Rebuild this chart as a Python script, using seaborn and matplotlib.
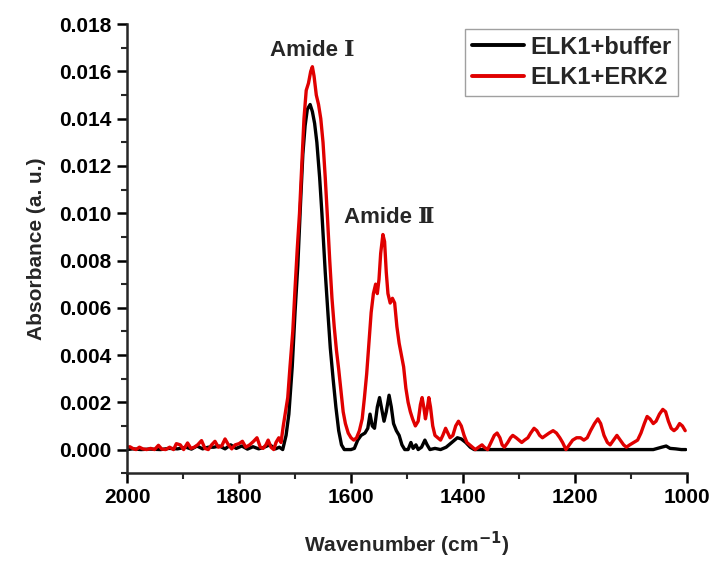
import matplotlib
matplotlib.use('Agg')
import matplotlib.pyplot as plt
from matplotlib.ticker import MultipleLocator, FormatStrFormatter
import numpy as np
import pandas as pd
import seaborn as sns

# -----------------------------------------------------------------------
# Spectra: wavenumber (cm-1) and absorbance (a.u.)
buffer_wn = [2000, 1990, 1975, 1960, 1940, 1925, 1910, 1895, 1885, 1875,
             1865, 1855, 1845, 1835, 1825, 1815, 1805, 1795, 1785, 1775,
             1765, 1755, 1745, 1735, 1728, 1722, 1716, 1711, 1705, 1700,
             1695, 1690, 1686, 1682, 1678, 1673, 1669, 1665, 1661, 1656,
             1652, 1646, 1641, 1637, 1632, 1627, 1622, 1617, 1612, 1600,
             1594, 1588, 1582, 1575, 1570, 1566, 1562, 1558, 1553, 1549,
             1545, 1541, 1537, 1532, 1528, 1524, 1519, 1514, 1509, 1504,
             1498, 1493, 1489, 1484, 1480, 1474, 1468, 1464, 1459, 1450,
             1440, 1430, 1420, 1410, 1403, 1395, 1387, 1380, 1350, 1300,
             1250, 1200, 1150, 1100, 1060, 1045, 1037, 1030, 1020, 1010,
             1002]
buffer_abs = [0.0, 0.00003, 0.0, 0.00002, 0.0, 0.00005, 0.00003, 0.0001, 0.00002, 0.00015,
              0.00003, 0.0001, 0.0001, 0.00015, 0.00003, 0.0002, 0.00005, 0.00015, 0.00002, 0.00012,
              0.00003, 0.0001, 0.0002, 0.00003, 0.0001, 0.0, 0.0006, 0.0015, 0.0035, 0.0058,
              0.0078, 0.0105, 0.0125, 0.0137, 0.0144, 0.0146, 0.0143, 0.0138, 0.0130, 0.0115,
              0.0100, 0.0075, 0.0057, 0.0043, 0.0030, 0.0018, 0.0008, 0.0002, 0.0, 0.0,
              0.00005, 0.0004, 0.0006, 0.0007, 0.0009, 0.0015, 0.0010, 0.0009, 0.0018, 0.0022,
              0.0017, 0.0012, 0.0016, 0.0023, 0.0018, 0.0011, 0.0008, 0.0006, 0.0002, 0.0,
              0.0, 0.0003, 0.00005, 0.0002, 0.0, 0.0001, 0.0004, 0.0002, 0.0, 0.00005,
              0.0, 0.0001, 0.0003, 0.0005, 0.00045, 0.0003, 0.0001, 0.0, 0.0, 0.0,
              0.0, 0.0, 0.0, 0.0, 0.0, 0.0001, 0.00015, 0.00005, 0.00003, 0.0,
              0.0]

erk2_wn = [2000, 1995, 1990, 1984, 1978, 1972, 1965, 1958, 1951, 1944,
           1938, 1931, 1924, 1917, 1912, 1905, 1899, 1892, 1886, 1880,
           1874, 1867, 1861, 1855, 1849, 1843, 1837, 1831, 1825, 1819,
           1813, 1807, 1800, 1794, 1788, 1781, 1774, 1768, 1762, 1757,
           1752, 1748, 1743, 1738, 1734, 1729, 1725, 1721, 1717, 1713,
           1709, 1704, 1700, 1696, 1692, 1688, 1684, 1680, 1676, 1672,
           1669, 1666, 1662, 1658, 1654, 1650, 1646, 1642, 1638, 1634,
           1630, 1626, 1622, 1618, 1614, 1610, 1605, 1600, 1595, 1590,
           1585, 1580, 1576, 1572, 1568, 1564, 1560, 1556, 1553, 1550,
           1547, 1543, 1540, 1537, 1534, 1530, 1526, 1522, 1518, 1514,
           1510, 1506, 1502, 1498, 1494, 1490, 1485, 1480, 1476, 1473,
           1470, 1467, 1464, 1461, 1458, 1454, 1450, 1445, 1440, 1436,
           1431, 1427, 1423, 1418, 1413, 1408, 1403, 1398, 1393, 1388,
           1383, 1378, 1372, 1366, 1362, 1356, 1350, 1344, 1339, 1334,
           1330, 1326, 1320, 1315, 1311, 1305, 1300, 1295, 1290, 1284,
           1279, 1273, 1268, 1263, 1258, 1252, 1246, 1239, 1233, 1227,
           1222, 1216, 1210, 1204, 1197, 1190, 1184, 1178, 1172, 1165,
           1159, 1154, 1148, 1142, 1137, 1131, 1125, 1119, 1113, 1108,
           1102, 1095, 1088, 1082, 1076, 1071, 1066, 1060, 1055, 1049,
           1043, 1038, 1033, 1028, 1023, 1018, 1013, 1008, 1003]
erk2_abs = [0.0001, 0.00012, 0.00005, 0.0, 0.0001, 0.00003, 0.0, 0.00005, 0.0, 0.00018,
            0.00002, 0.0, 0.0001, 0.0, 0.00025, 0.0002, 0.0, 0.00028, 0.00005, 0.0001,
            0.0002, 0.00038, 0.00005, 0.0, 0.0002, 0.00035, 0.0001, 0.00015, 0.00045, 0.0002,
            0.00003, 0.0002, 0.00025, 0.00035, 0.0001, 0.0002, 0.00035, 0.0005, 0.0001, 0.00005,
            0.0002, 0.0004, 0.0001, 0.0, 0.0003, 0.0005, 0.0003, 0.0010, 0.0016, 0.0022,
            0.0035, 0.0050, 0.0068, 0.0085, 0.0100, 0.0120, 0.0140, 0.0152, 0.0155, 0.0160,
            0.0162, 0.0158, 0.0150, 0.0146, 0.0140, 0.0130, 0.0115, 0.0098, 0.0080, 0.0064,
            0.0052, 0.0042, 0.0034, 0.0025, 0.0016, 0.0011, 0.0007, 0.0005, 0.0004, 0.0005,
            0.0008, 0.0013, 0.0022, 0.0032, 0.0045, 0.0058, 0.0066, 0.0070, 0.0066, 0.0072,
            0.0083, 0.0091, 0.0088, 0.0075, 0.0066, 0.0062, 0.0064, 0.0062, 0.0052, 0.0045,
            0.0040, 0.0035, 0.0026, 0.0020, 0.0016, 0.0013, 0.0010, 0.0012, 0.0019, 0.0022,
            0.0018, 0.0013, 0.0017, 0.0022, 0.0018, 0.0010, 0.0006, 0.0005, 0.0004, 0.0006,
            0.0009, 0.0007, 0.0005, 0.0006, 0.0010, 0.0012, 0.0010, 0.0006, 0.0003, 0.0002,
            0.0001, 0.0, 0.0001, 0.0002, 0.0001, 0.0, 0.0003, 0.0006, 0.0007, 0.0005,
            0.0002, 0.0001, 0.0003, 0.0005, 0.0006, 0.0005, 0.0004, 0.0003, 0.0004, 0.0005,
            0.0007, 0.0009, 0.0008, 0.0006, 0.0005, 0.0006, 0.0007, 0.0008, 0.0007, 0.0005,
            0.0003, 0.0, 0.0002, 0.0004, 0.0005, 0.0005, 0.0004, 0.0005, 0.0008, 0.0011,
            0.0013, 0.0011, 0.0006, 0.0003, 0.0002, 0.0004, 0.0006, 0.0004, 0.0002, 0.0001,
            0.0002, 0.0003, 0.0004, 0.0007, 0.0011, 0.0014, 0.0013, 0.0011, 0.0012, 0.0015,
            0.0017, 0.0016, 0.0012, 0.0009, 0.0008, 0.0009, 0.0011, 0.0010, 0.0008]

series_names = ['ELK1+buffer', 'ELK1+ERK2']
series_colors = ['black', '#e00000']

# -----------------------------------------------------------------------
# Long frame for seaborn
frame = pd.concat([
    pd.DataFrame({'Wavenumber': buffer_wn, 'Absorbance': buffer_abs,
                  'Sample': series_names[0]}),
    pd.DataFrame({'Wavenumber': erk2_wn, 'Absorbance': erk2_abs,
                  'Sample': series_names[1]}),
], ignore_index=True)

sns.set_theme(style='ticks')
plt.rcParams['font.family'] = ['Liberation Sans', 'DejaVu Serif']
plt.rcParams['axes.linewidth'] = 1.8

fig = plt.figure(figsize=(7.14, 5.62), dpi=100)
ax = fig.add_axes([0.178, 0.158, 0.784, 0.799])

sns.lineplot(data=frame, x='Wavenumber', y='Absorbance', hue='Sample',
             palette=dict(zip(series_names, series_colors)),
             estimator=None, sort=False, linewidth=2.4, ax=ax)

ax.set_xlim(2000, 1000)
ax.set_ylim(-0.001, 0.018)
ax.xaxis.set_major_locator(MultipleLocator(200))
ax.xaxis.set_minor_locator(MultipleLocator(100))
ax.yaxis.set_major_locator(MultipleLocator(0.002))
ax.yaxis.set_minor_locator(MultipleLocator(0.001))
ax.yaxis.set_major_formatter(FormatStrFormatter('%.3f'))
ax.tick_params(which='major', direction='out', length=7, width=1.8,
               labelsize=15, colors='black', pad=4)
ax.tick_params(which='minor', direction='out', length=4, width=1.5)
for lab in ax.get_xticklabels() + ax.get_yticklabels():
    lab.set_fontweight('bold')

sns.despine(ax=ax)

ax.set_xlabel('Wavenumber (cm$^{\\mathbf{-1}}$)', fontsize=15,
              fontweight='bold', labelpad=16)
ax.set_ylabel('Absorbance (a. u.)', fontsize=15, fontweight='bold',
              labelpad=10)

# Peak labels
ax.text(1670, 0.0169, 'Amide Ⅰ', ha='center', va='center', fontsize=16,
        fontweight='bold')
ax.text(1532, 0.0098, 'Amide Ⅱ', ha='center', va='center', fontsize=16,
        fontweight='bold')

leg = ax.legend(loc='upper right', bbox_to_anchor=(0.985, 0.99),
                borderaxespad=0, fancybox=False, edgecolor='#888888',
                handlelength=2.2, handletextpad=0.25, borderpad=0.3,
                labelspacing=0.3, prop={'weight': 'bold', 'size': 17})
leg.get_frame().set_linewidth(1.0)
for line in leg.get_lines():
    line.set_linewidth(2.8)

fig.savefig('out.png', dpi=100)
